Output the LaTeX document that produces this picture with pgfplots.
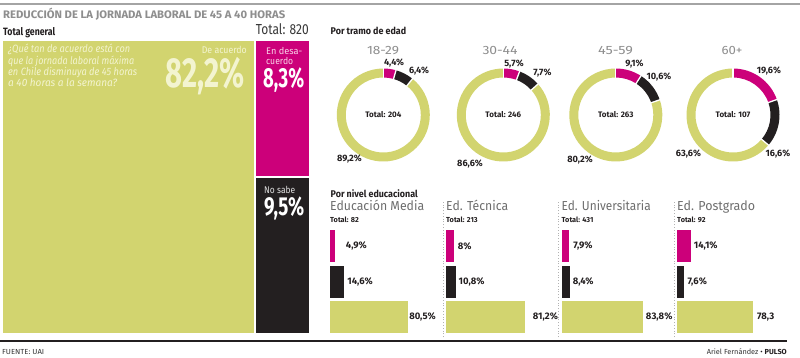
\documentclass[border=0pt]{standalone}
\usepackage{pgfplots}
\pgfplotsset{compat=1.18}
\usepackage{graphicx}
\usepackage{fontspec}
\setmainfont{Fira Sans}
\definecolor{cgreen}{HTML}{D2D46F}
\definecolor{cmag}{HTML}{CC007A}
\definecolor{cblack}{HTML}{231F20}
\definecolor{cgray}{HTML}{8E8E8E}
\definecolor{cgrayd}{HTML}{6E6E6E}
\definecolor{cpale}{HTML}{F3F4D0}
\definecolor{cpink}{HTML}{F8D2E7}
\newcommand{\fitw}[2]{\resizebox{#1pt}{\height}{#2}}
\newcommand{\fs}[1]{\fontsize{#1}{#1}\selectfont}
\def\Ro{46.5pt}\def\Ri{37.5pt}\def\Rw{9pt}
% ring segments: #1 = desacuerdo, #2 = no sabe (percent)
\newcommand{\ring}[2]{%
 \fill[cmag] (axis cs:0,0) ++(90:\Ro) arc[start angle=90,end angle={90-3.6*(#1)},radius=\Ro] -- ++({90-3.6*(#1)}:-\Rw) arc[start angle={90-3.6*(#1)},end angle=90,radius=\Ri] -- cycle;
 \fill[cblack] (axis cs:0,0) ++({90-3.6*(#1)}:\Ro) arc[start angle={90-3.6*(#1)},end angle={90-3.6*(#1+#2)},radius=\Ro] -- ++({90-3.6*(#1+#2)}:-\Rw) arc[start angle={90-3.6*(#1+#2)},end angle={90-3.6*(#1)},radius=\Ri] -- cycle;
 \fill[cgreen] (axis cs:0,0) ++({90-3.6*(#1+#2)}:\Ro) arc[start angle={90-3.6*(#1+#2)},end angle=-270,radius=\Ro] -- ++(-270:-\Rw) arc[start angle=-270,end angle={90-3.6*(#1+#2)},radius=\Ri] -- cycle;
 \draw[white,line width=1.3pt] (axis cs:0,0) ++(90:36pt) -- ++(90:12pt);
 \draw[white,line width=1.3pt] (axis cs:0,0) ++({90-3.6*(#1)}:36pt) -- ++({90-3.6*(#1)}:12pt);
 \draw[white,line width=1.3pt] (axis cs:0,0) ++({90-3.6*(#1+#2)}:36pt) -- ++({90-3.6*(#1+#2)}:12pt);
}
\pgfplotsset{
 donut/.style={anchor=center, scale only axis, width=100pt, height=100pt,
   xmin=-50,xmax=50,ymin=-50,ymax=50, hide axis, clip=false},
 edu/.style={anchor=south west, scale only axis, width=97pt, height=103pt,
   xmin=0,xmax=100,ymin=0.5493,ymax=3.4507, hide axis, clip=false,
   xbar, bar width=32pt, bar shift=0pt,
   every node near coord/.append style={anchor=west, inner sep=0pt, font=\bfseries\fs{9.5}, text=cblack}},
}
\tikzset{lab/.style={inner sep=0pt, font=\bfseries\fs{9.2}, text=cblack, anchor=base}}
\begin{document}
\begin{tikzpicture}
\begin{scope}[x=1pt,y=1pt]
\fill[white] (0,0) rectangle (800,357);
% rules
\draw[cgray!80, line width=1.3pt] (0,353) -- (800,353);
\draw[cblack, line width=2pt] (0,16) -- (787,16);
% dotted separators
\draw[black!30, line width=0.8pt, dotted] (443,20) -- (443,157);
\draw[black!30, line width=0.8pt, dotted] (558,20) -- (558,157);
\draw[black!30, line width=0.8pt, dotted] (674,20) -- (674,157);
\end{scope}

% ---------- treemap: total general (82.2 / 8.3 / 9.5) ----------
\begin{axis}[at={(3pt,24pt)}, anchor=south west, scale only axis, width=306pt, height=292pt,
  xmin=0, xmax=100, ymin=0, ymax=100, hide axis, clip=false]
\addplot[fill=cgreen, draw=none] coordinates {(0,0) (82.2,0) (82.2,100) (0,100)} -- cycle;
\addplot[fill=cmag, draw=none] coordinates {(82.2,53.37) (100,53.37) (100,100) (82.2,100)} -- cycle;
\addplot[fill=cblack, draw=none] coordinates {(82.2,0) (100,0) (100,53.37) (82.2,53.37)} -- cycle;
\addplot[white, line width=2pt] coordinates {(82.2,0) (82.2,100)};
\addplot[white, line width=2pt] coordinates {(82.2,53.37) (100,53.37)};
\end{axis}

% ---------- donuts: por tramo de edad ----------
\begin{axis}[donut, at={(383.3pt,242pt)}]
\ring{4.4}{6.4}
\node[lab] at (axis cs:10.7,49.1) {4,4\%};
\node[lab] at (axis cs:35.7,41.1) {6,4\%};
\node[lab] at (axis cs:-33.8,-46.5) {89,2\%};
\node[lab, font=\bfseries\fs{8}] at (axis cs:0,-2) {Total: 204};
\end{axis}
\begin{axis}[donut, at={(503.3pt,242pt)}]
\ring{5.7}{7.7}
\node[lab] at (axis cs:10.7,48.5) {5,7\%};
\node[lab] at (axis cs:39.2,39.5) {7,7\%};
\node[lab] at (axis cs:-33.3,-51.5) {86,6\%};
\node[lab, font=\bfseries\fs{8}] at (axis cs:0,-2) {Total: 246};
\end{axis}
\begin{axis}[donut, at={(615.8pt,242pt)}]
\ring{9.1}{10.6}
\node[lab] at (axis cs:18.7,48.5) {9,1\%};
\node[lab] at (axis cs:43.2,35.8) {10,6\%};
\node[lab] at (axis cs:-35.8,-47.5) {80,2\%};
\node[lab, font=\bfseries\fs{8}] at (axis cs:0,-2) {Total: 263};
\end{axis}
\begin{axis}[donut, at={(733pt,242pt)}]
\ring{19.6}{16.6}
\node[lab] at (axis cs:36,41.3) {19,6\%};
\node[lab] at (axis cs:45,-41.5) {16,6\%};
\node[lab] at (axis cs:-44.5,-41.5) {63,6\%};
\node[lab, font=\bfseries\fs{8}] at (axis cs:0,-2) {Total: 107};
\end{axis}

% ---------- por nivel educacional ----------
\begin{axis}[edu, at={(330pt,24pt)}]
\addplot[fill=cmag, draw=none, nodes near coords={4,9\%}, every node near coord/.append style={xshift=11pt}] coordinates {(4.9,3)};
\addplot[fill=cblack, draw=none, nodes near coords={14,6\%}, every node near coord/.append style={xshift=3pt}] coordinates {(14.6,2)};
\addplot[fill=cgreen, draw=none, nodes near coords={80,5\%}, every node near coord/.append style={xshift=1pt}] coordinates {(80.5,1)};
\end{axis}
\begin{axis}[edu, at={(446pt,24pt)}]
\addplot[fill=cmag, draw=none, nodes near coords={8\%}, every node near coord/.append style={xshift=4pt}] coordinates {(8,3)};
\addplot[fill=cblack, draw=none, nodes near coords={10,8\%}, every node near coord/.append style={xshift=2pt}] coordinates {(10.8,2)};
\addplot[fill=cgreen, draw=none, nodes near coords={81,2\%}, every node near coord/.append style={xshift=8pt}] coordinates {(81.2,1)};
\end{axis}
\begin{axis}[edu, at={(561.5pt,24pt)}]
\addplot[fill=cmag, draw=none, nodes near coords={7,9\%}, every node near coord/.append style={xshift=4pt}] coordinates {(7.9,3)};
\addplot[fill=cblack, draw=none, nodes near coords={8,4\%}, every node near coord/.append style={xshift=3pt}] coordinates {(8.4,2)};
\addplot[fill=cgreen, draw=none, nodes near coords={83,8\%}, every node near coord/.append style={xshift=3pt}] coordinates {(83.8,1)};
\end{axis}
\begin{axis}[edu, at={(677pt,24pt)}]
\addplot[fill=cmag, draw=none, nodes near coords={14,1\%}, every node near coord/.append style={xshift=3pt}] coordinates {(14.1,3)};
\addplot[fill=cblack, draw=none, nodes near coords={7,6\%}, every node near coord/.append style={xshift=3pt}] coordinates {(7.6,2)};
\addplot[fill=cgreen, draw=none, nodes near coords={78,3}, every node near coord/.append style={xshift=4pt}] coordinates {(78.3,1)};
\end{axis}

\begin{scope}[x=1pt,y=1pt, every node/.style={inner sep=0pt}]
% titles
\node[anchor=base west, text=cgray, font=\bfseries\fs{10.9}] at (3,338.3) {\fitw{282}{REDUCCIÓN DE LA JORNADA LABORAL DE 45 A 40 HORAS}};
\node[anchor=base west, text=cblack, font=\bfseries\fs{10.6}] at (3,321.3) {\fitw{52}{Total general}};
\node[anchor=base east, text=black!78, font=\fs{14.5}] at (309,322) {\fitw{53}{Total: 820}};
\node[anchor=base west, text=cblack, font=\bfseries\fs{9.7}] at (330.5,322) {\fitw{75.5}{Por tramo de edad}};
\node[anchor=base west, text=cblack, font=\bfseries\fs{9.7}] at (330.5,159.5) {\fitw{87}{Por nivel educacional}};
\node[anchor=base west, text=black!80, font=\fs{7.3}] at (2,2.5) {\fitw{42}{FUENTE: UAI}};
\node[anchor=base east, text=black!80, font=\fs{7.3}] at (787,2.5) {\fitw{80}{Ariel Fernández \textcolor{cblack}{\textbullet\ \textbf{PULSO}}}};
% treemap texts
\node[anchor=base west, text=cpale, font=\itshape\fs{10.6}] at (8,304) {\fitw{122}{¿Qué tan de acuerdo está con}};
\node[anchor=base west, text=cpale, font=\itshape\fs{10.6}] at (8,292.7) {\fitw{126}{que la jornada laboral máxima}};
\node[anchor=base west, text=cpale, font=\itshape\fs{10.6}] at (8,281.4) {\fitw{129}{en Chile disminuya de 45 horas}};
\node[anchor=base west, text=cpale, font=\itshape\fs{10.6}] at (8,270.1) {\fitw{109}{a 40 horas a la semana?}};
\node[anchor=base east, text=cpale, font=\fs{9.7}] at (247,303.7) {\fitw{45}{De acuerdo}};
\node[anchor=base east, text=cpale, font=\bfseries\fs{42}] at (245,270) {\fitw{79}{82,2\%}};
\node[anchor=base west, text=cpink, font=\fs{9.5}] at (266,302) {\fitw{36}{En desa-}};
\node[anchor=base west, text=cpink, font=\fs{9.5}] at (266,292) {\fitw{27}{cuerdo}};
\node[anchor=base west, text=white, font=\bfseries\fs{27.6}] at (263,270) {\fitw{41}{8,3\%}};
\node[anchor=base west, text=black!12, font=\fs{9.7}] at (264,163.7) {\fitw{31}{No sabe}};
\node[anchor=base west, text=white, font=\bfseries\fs{26}] at (264,142) {\fitw{40}{9,5\%}};
% age titles
\node[anchor=base, text=cgray, font=\fs{12}] at (383,302) {\fitw{32}{18-29}};
\node[anchor=base, text=cgray, font=\fs{12}] at (500,302) {\fitw{35}{30-44}};
\node[anchor=base, text=cgray, font=\fs{12}] at (615.5,302) {\fitw{35}{45-59}};
\node[anchor=base, text=cgray, font=\fs{12}] at (732,302) {\fitw{21}{60+}};
% education titles
\node[anchor=base west, text=cgrayd, font=\fs{13}] at (330,146.3) {\fitw{94}{Educación Media}};
\node[anchor=base west, text=cgrayd, font=\fs{13}] at (446,146.3) {\fitw{62}{Ed. Técnica}};
\node[anchor=base west, text=cgrayd, font=\fs{13}] at (561.5,146.3) {\fitw{89}{Ed. Universitaria}};
\node[anchor=base west, text=cgrayd, font=\fs{13}] at (677,146.3) {\fitw{78}{Ed. Postgrado}};
\node[anchor=base west, text=cblack, font=\bfseries\fs{7.3}] at (330,134.3) {Total: 82};
\node[anchor=base west, text=cblack, font=\bfseries\fs{7.3}] at (446,134.3) {Total: 213};
\node[anchor=base west, text=cblack, font=\bfseries\fs{7.3}] at (561.5,134.3) {Total: 431};
\node[anchor=base west, text=cblack, font=\bfseries\fs{7.3}] at (677,134.3) {Total: 92};
\end{scope}
\pgfresetboundingbox
\useasboundingbox (0pt,0pt) rectangle (800pt,357pt);
\end{tikzpicture}
\end{document}
